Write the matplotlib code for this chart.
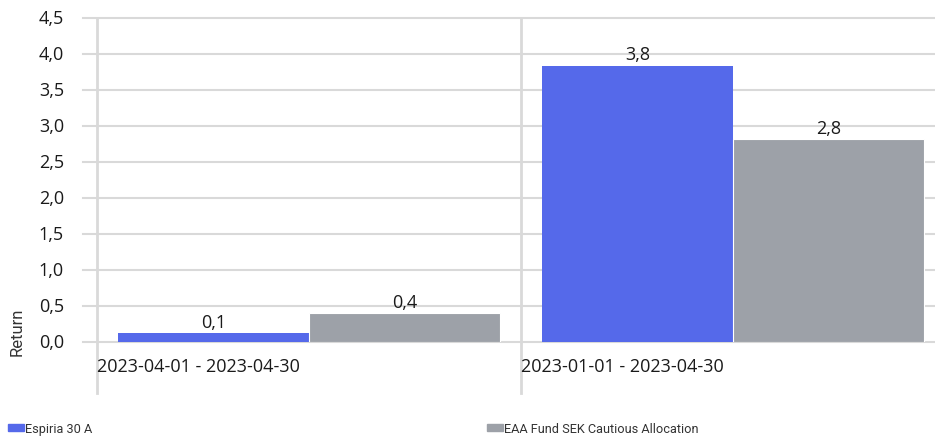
import matplotlib
matplotlib.use("Agg")
import matplotlib.pyplot as plt
import numpy as np

categories = ["2023-04-01 - 2023-04-30", "2023-01-01 - 2023-04-30"]
series_names = ["Espiria 30 A", "EAA Fund SEK Cautious Allocation"]
espiria = [0.12, 3.84]
eaa = [0.40, 2.82]
yticks = [0.0, 0.5, 1.0, 1.5, 2.0, 2.5, 3.0, 3.5, 4.0, 4.5]
colors = ["#5569EA", "#9DA1A8"]

W, H = 935, 439
fig = plt.figure(figsize=(W / 100, H / 100), dpi=100)
ax_l, ax_r, ax_b, ax_t = 97, 945, 343, 19
ax = fig.add_axes([ax_l / W, 1 - ax_b / H, (ax_r - ax_l) / W, (ax_b - ax_t) / H])
ax.set_xlim(0, len(categories))
ax.set_ylim(0, 4.5)

numfont = dict(family=["Open Sans", "DejaVu Sans"], size=13, color="#1a1a1a")
grid_c = "#d9d9d9"

x = np.arange(len(categories)) + 0.5
w = 0.45
b1 = ax.bar(x - w / 2, espiria, w, color=colors[0], zorder=3)
b2 = ax.bar(x + w / 2, eaa, w, color=colors[1], edgecolor="white", linewidth=0.8, zorder=3)

for bars, vals in ((b1, espiria), (b2, eaa)):
    for r, v in zip(bars, vals):
        s = f"{int(v * 10) / 10:.1f}".replace(".", ",")
        ax.text(r.get_x() + r.get_width() / 2, v + 0.03, s, ha="center", va="bottom", **numfont)

ext = 14 / (ax_r - ax_l)
for t in yticks:
    ax.axhline(t, xmin=-ext, xmax=1, color=grid_c, lw=1.5, zorder=1, clip_on=False)
    ax.text(-33 / (ax_r - ax_l), t, f"{t:.1f}".replace(".", ","), transform=ax.get_yaxis_transform(),
            ha="right", va="center", **numfont)

below = (394 - ax_b) / (ax_b - ax_t)
for i in range(len(categories) + 1):
    ax.axvline(i, ymin=-below, ymax=1, color=grid_c, lw=2, zorder=2, clip_on=False)

for i, c in enumerate(categories):
    ax.text(i + 0.0, -0.33, c, ha="left", va="center", **numfont)

ax.set_xticks([])
ax.set_yticks([])
for s in ax.spines.values():
    s.set_visible(False)

legfont = dict(family=["Roboto", "DejaVu Sans"], size=9.2, color="#333333")
fig.text(17 / W, 1 - 332 / H, "Return", rotation=90, ha="center", va="center",
         family=["Roboto", "DejaVu Sans"], size=12, color="#333333")

for (lx, name, col) in ((8, series_names[0], colors[0]), (487, series_names[1], colors[1])):
    fig.patches.append(plt.Rectangle((lx / W, 1 - 432 / H), 16 / W, 7 / H, transform=fig.transFigure,
                                     color=col))
    fig.text((lx + 17) / W, 1 - 430 / H, name, ha="left", va="center", **legfont)

fig.savefig("out.png", dpi=100)
